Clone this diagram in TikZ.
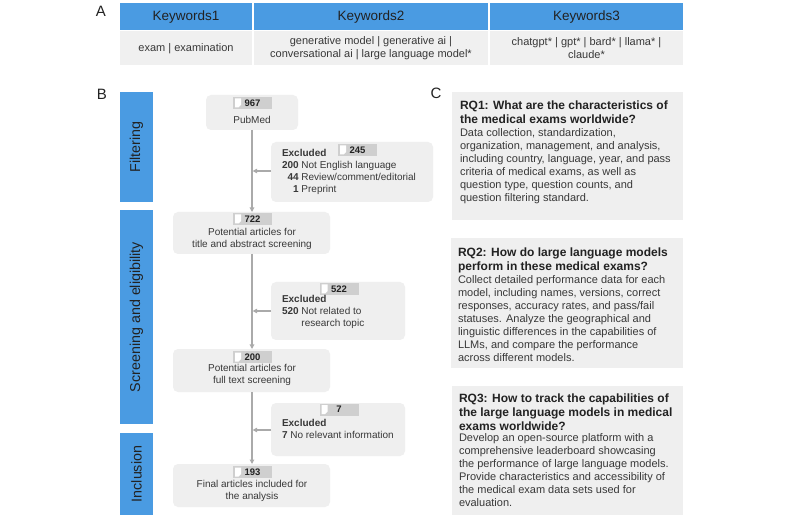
\documentclass[tikz,border=0pt]{standalone}
\usepackage{fontspec}
\setmainfont{Liberation Sans}
\usetikzlibrary{arrows.meta}
\definecolor{hblue}{HTML}{4A9BE2}
\definecolor{cellgray}{HTML}{F0F0F0}
\definecolor{boxgray}{HTML}{EFEFEF}
\definecolor{badgegray}{HTML}{CFCFCF}
\definecolor{linegray}{HTML}{AAAAAA}
\definecolor{txt}{HTML}{383838}
\definecolor{dtxt}{HTML}{222222}
\tikzset{
  hdr/.style={fill=hblue, text=dtxt, font=\fontsize{13.5}{16}\selectfont},
  kcell/.style={fill=cellgray, text=txt, align=center, font=\fontsize{11}{13}\selectfont},
  panellabel/.style={font=\fontsize{15}{18}\selectfont, text=dtxt},
  phase/.style={fill=hblue, text=dtxt, rotate=90, minimum height=33pt, font=\fontsize{14.3}{16}\selectfont},
  fbox/.style={fill=boxgray, rounded corners=5pt},
  ftext/.style={text=txt, align=center, font=\fontsize{10}{12}\selectfont},
  extext/.style={text=txt, align=left, anchor=north west, font=\fontsize{10}{12}\selectfont},
  badge/.style={fill=badgegray, minimum width=39pt, minimum height=12pt},
  badgenum/.style={font=\bfseries\fontsize{9.5}{11}\selectfont, text=dtxt},
  flow/.style={draw=linegray, line width=1.2pt, -{Triangle[length=4.5pt,width=4.5pt]}},
  rqbox/.style={fill=boxgray},
  rqtitle/.style={anchor=north west, align=left, text=dtxt, font=\bfseries\fontsize{12}{14}\selectfont},
  rqbody/.style={anchor=north west, align=left, text=txt, font=\fontsize{11}{13}\selectfont},
}
\newcommand\mybadge[4]{%
  \node[badge] (#1) at (#2,#3) {};
  \fill[white] ([xshift=2pt,yshift=-1.5pt]#1.north west) -- ++(6pt,0pt) -- ++(0pt,-6.5pt) -- ++(-2.5pt,-2.5pt) -- ++(-3.5pt,0pt) -- cycle;
  \node[badgenum] (#1num) at (#1.center) {#4};
}
\begin{document}
\begin{tikzpicture}[x=1pt,y=-1pt, every node/.style={inner sep=0pt, outer sep=0pt}]
\useasboundingbox[fill=white] (0,0) rectangle (800,518);

% ---------------- Panel A ----------------
\node[panellabel] (labA) at (101,11) {A};
\node[hdr, minimum width=132pt, minimum height=27.5pt] (h1) at (186,16.75) {Keywords1};
\node[hdr, minimum width=234pt, minimum height=27.5pt] (h2) at (371,16.75) {Keywords2};
\node[hdr, minimum width=193pt, minimum height=27.5pt] (h3) at (586.5,16.75) {Keywords3};
\node[kcell, minimum width=132pt, minimum height=33.5pt] (c1) at (186,48.25) {exam | examination};
\node[kcell, minimum width=234pt, minimum height=33.5pt] (c2) at (371,48.25) {generative model | generative ai |\\conversational ai | large language model*};
\node[kcell, minimum width=193pt, minimum height=33.5pt] (c3) at (586.5,48.25) {chatgpt* | gpt* | bard* | llama* |\\claude*};

% ---------------- Panel B ----------------
\node[panellabel] (labB) at (102,94) {B};
\node[phase, minimum width=110pt] (ph1) at (136.5,147) {Filtering};
\node[phase, minimum width=214pt] (ph2) at (136.5,317) {Screening and eligibility};
\node[phase, minimum width=82pt] (ph3) at (136.5,474) {Inclusion};

% main boxes
\node[fbox, minimum width=92pt, minimum height=35pt] (pub) at (252,112.5) {};
\mybadge{bpub}{252.5}{103}{967}
\node[ftext] (tpub) at (252,120) {PubMed};

\node[fbox, minimum width=157pt, minimum height=42pt] (n722) at (251.5,233) {};
\mybadge{b722}{252.5}{219}{722}
\node[ftext] (t722) at (252,238.5) {Potential articles for\\title and abstract screening};

\node[fbox, minimum width=157pt, minimum height=43pt] (n200) at (251.5,370.5) {};
\mybadge{b200}{252.5}{357}{200}
\node[ftext] (t200) at (252,375) {Potential articles for\\full text screening};

\node[fbox, minimum width=157pt, minimum height=43pt] (n193) at (251.5,485.5) {};
\mybadge{b193}{252.5}{472}{193}
\node[ftext] (t193) at (252,490.5) {Final articles included for\\the analysis};

% excluded boxes
\node[fbox, minimum width=162pt, minimum height=60pt] (ex1) at (352,172) {};
\mybadge{bex1}{357.5}{150}{245}
\node[extext] (tex1) at (282,149) {\textbf{Excluded}\\\textbf{200} Not English language\\\hphantom{\textbf{0}}\textbf{44} Review/comment/editorial\\\hphantom{\textbf{00}}\textbf{1} Preprint};

\node[fbox, minimum width=134pt, minimum height=58pt] (ex2) at (338,311) {};
\mybadge{bex2}{339}{289}{522}
\node[extext] (tex2) at (282,295) {\textbf{Excluded}\\\textbf{520} Not related to\\\hphantom{\textbf{520}~}research topic};

\node[fbox, minimum width=134pt, minimum height=53pt] (ex3) at (338,429.5) {};
\mybadge{bex3}{339}{409.5}{7}
\node[extext] (tex3) at (282,419) {\textbf{Excluded}\\\textbf{7} No relevant information};

% connectors
\draw[flow] (pub.south -| 252,0) -- (n722.north -| 252,0);
\draw[flow] (n722.south -| 252,0) -- (n200.north -| 252,0);
\draw[flow] (n200.south -| 252,0) -- (n193.north -| 252,0);
\coordinate (j1) at (252.6,171);
\coordinate (j2) at (252.6,311);
\coordinate (j3) at (252.6,430);
\draw[flow] (ex1.west |- j1) -- (j1);
\draw[flow] (ex2.west |- j2) -- (j2);
\draw[flow] (ex3.west |- j3) -- (j3);

% ---------------- Panel C ----------------
\node[panellabel] (labC) at (436,93) {C};

\node[rqbox, minimum width=231pt, minimum height=128pt] (rq1) at (567.5,156) {};
\node[rqtitle] (rq1t) at (460,100.5) {RQ1: What are the characteristics of\\the medical exams worldwide?};
\node[rqbody] (rq1b) at (460,129) {Data collection, standardization,\\organization, management, and analysis,\\including country, language, year, and pass\\criteria of medical exams, as well as\\question type, question counts, and\\question filtering standard.};

\node[rqbox, minimum width=232pt, minimum height=130pt] (rq2) at (566.5,303) {};
\node[rqtitle] (rq2t) at (458,247.5) {RQ2: How do large language models\\perform in these medical exams?};
\node[rqbody] (rq2b) at (458,276) {Collect detailed performance data for each\\model, including names, versions, correct\\responses, accuracy rates, and pass/fail\\statuses. Analyze the geographical and\\linguistic differences in the capabilities of\\LLMs, and compare the performance\\across different models.};

\node[rqbox, minimum width=231pt, minimum height=129pt] (rq3) at (567.5,450.5) {};
\node[rqtitle] (rq3t) at (459,393.5) {RQ3: How to track the capabilities of\\the large language models in medical\\exams worldwide?};
\node[rqbody] (rq3b) at (459,434) {Develop an open-source platform with a\\comprehensive leaderboard showcasing\\the performance of large language models.\\Provide characteristics and accessibility of\\the medical exam data sets used for\\evaluation.};
\end{tikzpicture}
\end{document}
